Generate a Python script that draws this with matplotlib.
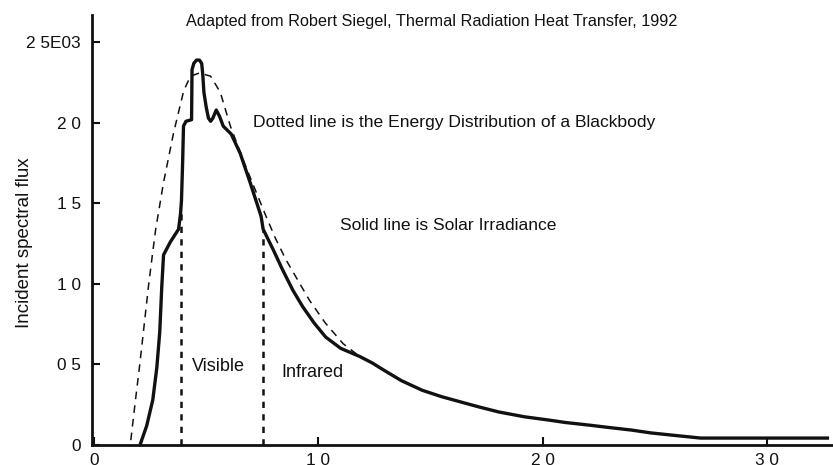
import matplotlib
matplotlib.use("Agg")
import matplotlib.pyplot as plt

plt.rcParams['font.family'] = ['Liberation Sans', 'DejaVu Sans']

# solar irradiance (solid)
solar_x = [0.208, 0.235, 0.262, 0.280, 0.293, 0.302, 0.310, 0.340, 0.377, 0.386,
           0.390, 0.395, 0.399, 0.410, 0.435, 0.437, 0.445, 0.457, 0.470, 0.480,
           0.485, 0.490, 0.500, 0.510, 0.520, 0.530, 0.545, 0.560, 0.576, 0.612,
           0.652, 0.696, 0.745, 0.754, 0.800, 0.840, 0.887, 0.930, 0.980, 1.033,
           1.100, 1.184, 1.240, 1.286, 1.370, 1.463, 1.550, 1.654, 1.720, 1.805,
           1.920, 2.027, 2.100, 2.204, 2.300, 2.395, 2.483, 2.600, 2.705, 3.000,
           3.270]
solar_y = [0.012, 0.12, 0.28, 0.48, 0.70, 0.98, 1.18, 1.26, 1.34, 1.44,
           1.52, 1.75, 1.98, 2.01, 2.02, 2.33, 2.37, 2.39, 2.39, 2.37,
           2.30, 2.19, 2.10, 2.03, 2.01, 2.03, 2.08, 2.04, 1.98, 1.93,
           1.81, 1.63, 1.42, 1.34, 1.21, 1.09, 0.96, 0.86, 0.76, 0.67,
           0.60, 0.55, 0.51, 0.47, 0.40, 0.34, 0.30, 0.26, 0.235, 0.205,
           0.175, 0.155, 0.14, 0.124, 0.108, 0.093, 0.075, 0.058, 0.043, 0.043,
           0.043]

# blackbody distribution (dashed)
bb_x = [0.164, 0.184, 0.204, 0.224, 0.244, 0.262, 0.275, 0.310, 0.355, 0.400,
        0.430, 0.470, 0.520, 0.563, 0.608, 0.665, 0.723, 0.767, 0.810, 0.856,
        0.910, 0.960, 1.030, 1.110, 1.175]
bb_y = [0.03, 0.27, 0.50, 0.75, 1.00, 1.20, 1.34, 1.63, 1.94, 2.20,
        2.29, 2.31, 2.29, 2.19, 1.98, 1.77, 1.57, 1.42, 1.28, 1.15,
        1.02, 0.90, 0.76, 0.63, 0.56]

# visible / infrared boundaries
band_x = [0.386, 0.754]
band_top = [1.44, 1.34]

ytick_vals = [0, 0.5, 1.0, 1.5, 2.0, 2.5]
ytick_labels = ["0", "0 5", "1 0", "1 5", "2 0", "2 5E03"]
xtick_vals = [0, 1.0, 2.0, 3.0]
xtick_labels = ["0", "1 0", "2 0", "3 0"]

ink = "#111111"

fig = plt.figure(figsize=(8.33, 4.65), dpi=100)
ax = fig.add_axes([92 / 833, 20 / 465, 741 / 833, 430 / 465])

ax.plot(bb_x, bb_y, color=ink, lw=1.1, ls=(0, (5, 4)))
ax.plot(solar_x, solar_y, color=ink, lw=2.4, solid_joinstyle='round')
for bx, bt in zip(band_x, band_top):
    ax.plot([bx, bx], [0, bt], color=ink, lw=1.8, ls=(0, (2.5, 2.5)))

ax.set_xlim(-0.009, 3.295)
ax.set_ylim(0, 2.67)

for s in ("top", "right"):
    ax.spines[s].set_visible(False)
for s in ("left", "bottom"):
    ax.spines[s].set_linewidth(2.0)
    ax.spines[s].set_color(ink)

ax.set_yticks(ytick_vals)
ax.set_yticklabels(ytick_labels)
ax.set_xticks(xtick_vals)
ax.set_xticklabels(xtick_labels)
ax.tick_params(axis='y', direction='in', length=6, width=1.5, pad=8,
               labelsize=12.4, colors=ink)
ax.tick_params(axis='x', direction='in', length=6, width=1.5, pad=6,
               labelsize=12.4, colors=ink)

fig.text(25 / 833, 1 - 243 / 465, "Incident spectral flux", rotation=90,
         ha='center', va='center', fontsize=13.5, color=ink)

ax.text(1.506, 2.63, "Adapted from Robert Siegel, Thermal Radiation Heat Transfer, 1992",
        ha='center', va='center', fontsize=11.7, color=ink)
ax.text(0.71, 2.0, "Dotted line is the Energy Distribution of a Blackbody",
        ha='left', va='center', fontsize=12.6, color=ink)
ax.text(1.095, 1.36, "Solid line is Solar Irradiance",
        ha='left', va='center', fontsize=12.6, color=ink)
ax.text(0.435, 0.485, "Visible", ha='left', va='center', fontsize=13, color=ink)
ax.text(0.834, 0.45, "Infrared", ha='left', va='center', fontsize=13, color=ink)

fig.savefig("out.png", dpi=100)
